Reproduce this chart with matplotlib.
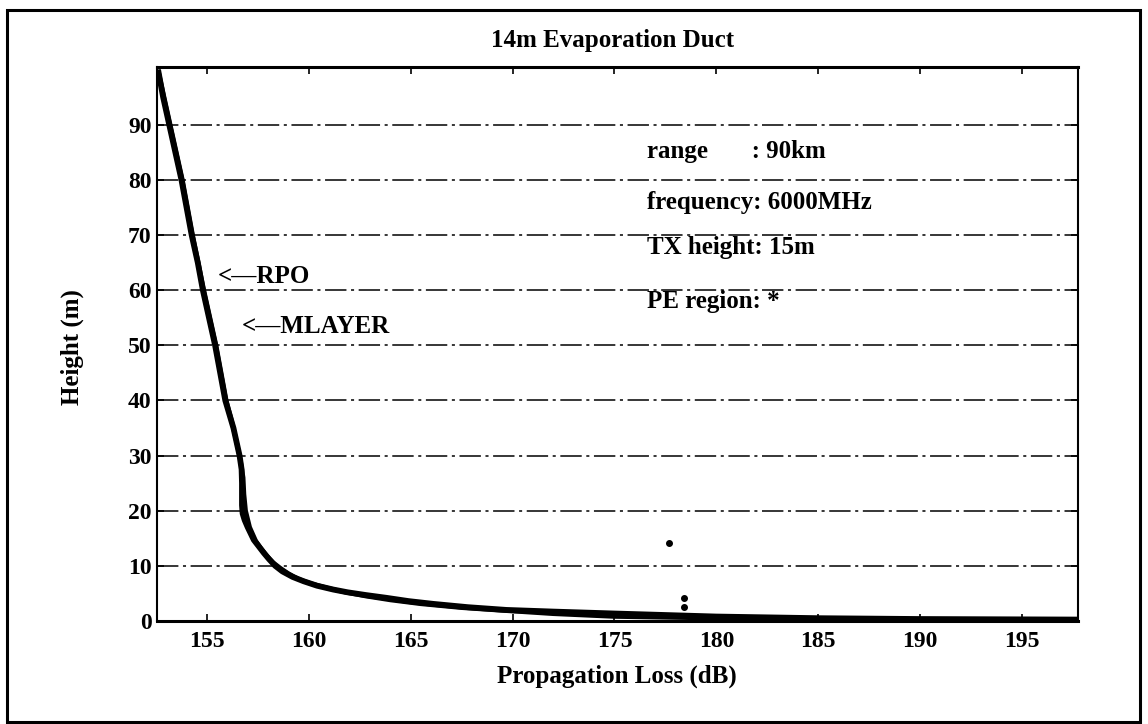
import matplotlib.pyplot as plt
from matplotlib.patches import Rectangle

# propagation loss (dB) vs height (m)
rpo_loss = [152.6, 152.85, 153.15, 153.45, 153.75, 154.0, 154.25, 154.55, 154.8,
            155.1, 155.4, 155.65, 155.9, 156.1, 156.3, 156.45, 156.6, 156.7,
            156.72, 156.72, 156.75, 156.85, 157.0, 157.3, 157.55, 157.8, 158.05,
            158.35, 158.7, 159.2, 159.75, 160.4, 161.2, 161.9, 162.8, 163.8,
            164.9, 166.1, 167.8, 169.7, 172.0, 175.0, 180.0, 185.0, 190.0, 197.8]
rpo_height = [100.0, 95.0, 90.0, 85.0, 80.0, 75.0, 70.0, 65.0, 60.0,
              55.0, 50.0, 45.0, 40.0, 37.5, 35.0, 32.5, 30.0, 27.5,
              25.0, 21.0, 19.5, 18.3, 17.0, 14.7, 13.5, 12.3, 11.2,
              10.0, 9.0, 8.0, 7.2, 6.4, 5.7, 5.2, 4.7, 4.2,
              3.6, 3.1, 2.5, 2.0, 1.7, 1.35, 0.8, 0.5, 0.35, 0.25]

mlayer_loss = [152.6, 152.9, 153.2, 153.8, 154.3, 154.85, 155.45, 155.7, 155.95,
               156.2, 156.45, 156.65, 156.78, 156.82, 156.9, 157.1, 157.4,
               157.65, 157.95, 158.25, 158.6, 159.0, 159.5, 160.1, 160.9,
               161.8, 162.8, 164.0, 165.5, 167.5, 169.5, 172.0, 175.0, 180.0,
               190.0, 197.8]
mlayer_height = [100.0, 95.0, 90.0, 80.0, 70.0, 60.0, 50.0, 45.0, 40.0,
                 36.5, 32.5, 29.0, 26.0, 23.0, 20.0, 17.0, 14.5,
                 13.2, 11.8, 10.6, 9.6, 8.6, 7.6, 6.8, 6.0,
                 5.2, 4.5, 3.8, 3.1, 2.4, 1.9, 1.3, 0.8, 0.5,
                 0.2, 0.1]

x_ticks = [155, 160, 165, 170, 175, 180, 185, 190, 195]
y_ticks = [0, 10, 20, 30, 40, 50, 60, 70, 80, 90]
info_lines = ["range       : 90km", "frequency: 6000MHz", "TX height: 15m", "PE region: *"]
info_y = [85.1, 76.0, 67.7, 57.9]

# stray marks on the scan
speck_x = [177.7, 178.4, 178.4]
speck_y = [14.2, 4.2, 2.5]

serif = ['Liberation Serif', 'DejaVu Serif']
plt.rcParams['font.family'] = serif
fs = 18

fig = plt.figure(figsize=(11.48, 7.24), dpi=100)
ax = fig.add_axes([0.1368, 0.1423, 0.8022, 0.7652])

# outer frame around the whole figure
fig.patches.append(Rectangle((0.0061, 0.003), 0.987, 0.983, transform=fig.transFigure,
                             fill=False, edgecolor='black', linewidth=2.2))

ax.plot(rpo_loss, rpo_height, color='black', linewidth=4.2,
        solid_capstyle='butt', solid_joinstyle='round')
ax.plot(mlayer_loss, mlayer_height, color='black', linewidth=3.2,
        solid_capstyle='butt', solid_joinstyle='round')
ax.plot(speck_x, speck_y, 'o', color='black', markersize=4)

for yv in y_ticks[1:]:
    ax.axhline(yv, color='black', linewidth=1.1, linestyle=(0, (14, 3, 2, 3)))

ax.text(155.55, 62.4, "<\u2014RPO", fontsize=fs, fontweight='bold', va='center')
ax.text(156.7, 53.4, "<\u2014MLAYER", fontsize=fs, fontweight='bold', va='center')
for txt, yv in zip(info_lines, info_y):
    ax.text(176.6, yv, txt, fontsize=fs, fontweight='bold', va='center')

ax.set_xlim(152.55, 197.75)
ax.set_ylim(0, 100.5)
ax.set_xticks(x_ticks)
ax.set_yticks(y_ticks)
ax.tick_params(direction='in', length=5, width=1.2, top=True, right=True, labelsize=17)
ax.tick_params(axis='x', pad=7)
ax.tick_params(axis='y', pad=4)
for lab in ax.get_xticklabels() + ax.get_yticklabels():
    lab.set_fontweight('bold')

for side in ['top', 'bottom']:
    ax.spines[side].set_linewidth(2.2)
for side in ['left', 'right']:
    ax.spines[side].set_linewidth(1.5)

fig.text(0.5335, 1 - 41 / 724, "14m Evaporation Duct", fontsize=fs, fontweight='bold',
         ha='center', va='center')
fig.text(0.5375, 1 - 676 / 724, "Propagation Loss (dB)", fontsize=fs, fontweight='bold',
         ha='center', va='center')
fig.text(72 / 1148, 1 - 347 / 724, "Height (m)", fontsize=fs, fontweight='bold',
         ha='center', va='center', rotation=90)

plt.savefig('out.png', dpi=100)
